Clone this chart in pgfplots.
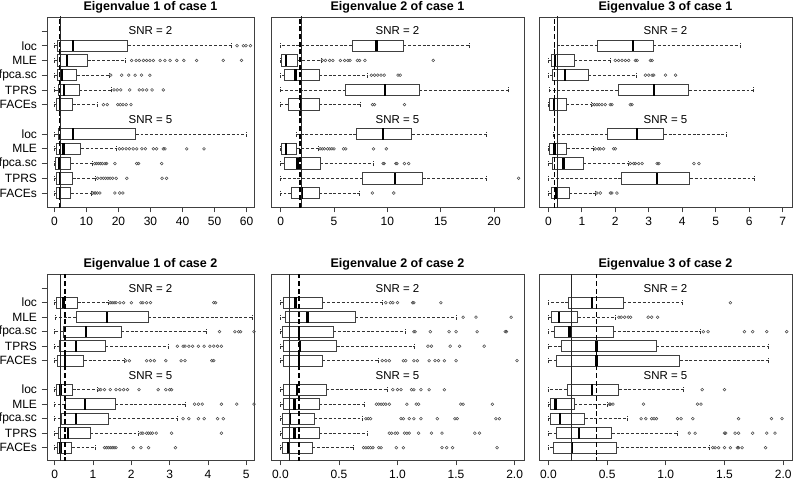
\documentclass[border=0pt]{standalone}
\usepackage{pgfplots}
\pgfplotsset{compat=1.18}
\usepgfplotslibrary{statistics}
\usepackage{fontspec}
\setmainfont{Liberation Sans}
\newcommand{\bx}[6]{\addplot[bxp, boxplot prepared={draw position=#1, lower whisker=#2, lower quartile=#3, median=#4, upper quartile=#5, upper whisker=#6}] coordinates {};}
\pgfplotsset{
  every axis title/.style={at={(0.5,1)}, anchor=base, yshift=4.5pt, font=\fontsize{9.4}{11}\selectfont\bfseries},
  bxp/.style={black!80, line width=0.7pt,
    boxplot/box extend=0.78, boxplot/whisker extend=0.34,
    boxplot/every box/.style={draw=black!75, line width=0.7pt},
    boxplot/every median/.style={draw=black, line width=1.8pt},
    boxplot/every whisker/.style={draw=black!80, line width=0.5pt, dash pattern=on 2.2pt off 1.4pt}},
  outl/.style={only marks, mark=o, mark size=1.05pt, black!70, mark options={line width=0.4pt}},
  vsol/.style={black!85, line width=0.8pt},
  vdash/.style={black, line width=1.0pt, dash pattern=on 3.75pt off 2pt},
  panel/.style={scale only axis, clip=true,
    axis line style={draw=black!75, line width=0.7pt},
    tick align=outside, major tick length=4pt,
    tick style={black!75, line width=0.6pt},
    xtick pos=bottom, ytick pos=left,
    /pgf/number format/assume math mode=true,
    tick label style={font=\fontsize{9}{10}\selectfont},
    anchor=south west},
  toprow/.style={panel, height=142.5pt, ymin=0.05, ymax=12.95},
  botrow/.style={panel, height=139.5pt, ymin=0.15, ymax=12.98},
  lab/.style={ytick={1,2,3,4,5,7,8,9,10,11,12},
    yticklabels={FACEs,TPRS,fpca.sc,MLE,loc,FACEs,TPRS,fpca.sc,MLE,loc,{}}},
  nolab/.style={ytick=\empty},
}
\newcommand{\snr}[1]{%
  \node[font=\fontsize{8.6}{10}\selectfont] at ({rel axis cs:0.5,0}|-{axis cs:0,12}) {SNR = 2};
  \node[font=\fontsize{8.6}{10}\selectfont] at ({rel axis cs:0.5,0}|-{axis cs:0,6}) {SNR = 5};}
\begin{document}
\begin{tikzpicture}
% ---------------- Panel 1 ----------------
\begin{axis}[toprow, lab, at={(35.25pt,207pt)}, width=155.25pt,
  xmin=-2.3, xmax=62.3, xtick={0,10,20,30,40,50,60},
  title={Eigenvalue 1 of case 1}]
\bx{11}{0.12}{1.05}{5.9}{22.9}{55.1}
\bx{10}{0.12}{1.05}{3.9}{10.4}{22.1}
\bx{9}{0.12}{1.05}{2.3}{7.0}{17.0}
\bx{8}{0.12}{1.2}{3.0}{7.8}{17.9}
\bx{7}{0.12}{0.75}{1.8}{5.7}{13.4}
\bx{5}{0.12}{1.2}{5.9}{25.4}{59.8}
\bx{4}{0.12}{0.75}{2.8}{8.3}{19.2}
\bx{3}{0.12}{0.3}{1.6}{5.1}{12.0}
\bx{2}{0.12}{0.75}{1.8}{5.7}{12.7}
\bx{1}{0.12}{0.75}{1.8}{5.1}{11.5}
\addplot[outl] coordinates {(57.0,11) (59.0,11) (59.8,11) (61.2,11)};
\addplot[outl] coordinates {(24.1,10) (25.5,10) (26.5,10) (27.8,10) (28.8,10) (29.8,10) (30.9,10) (33.0,10) (34.5,10) (36.1,10) (38.2,10) (40.4,10) (44.4,10) (52.7,10) (58.4,10)};
\addplot[outl] coordinates {(17.6,9) (21.0,9) (23.2,9) (25.2,9) (27.2,9) (29.8,9)};
\addplot[outl] coordinates {(18.6,8) (19.6,8) (20.7,8) (23.5,8) (26.5,8) (27.6,8) (28.8,8) (30.5,8) (34.0,8)};
\addplot[outl] coordinates {(15.3,7) (16.5,7) (19.8,7) (20.6,7) (21.4,7) (22.4,7) (23.9,7)};
\addplot[outl] coordinates {(20.3,4) (21.3,4) (22.4,4) (23.4,4) (24.6,4) (25.7,4) (27.3,4) (28.4,4) (30.9,4) (31.9,4) (34.0,4) (34.5,4) (41.3,4) (46.7,4)};
\addplot[outl] coordinates {(12.6,3) (13.2,3) (13.8,3) (14.4,3) (15.0,3) (15.8,3) (16.3,3) (18.9,3) (25.7,3) (26.3,3) (33.5,3)};
\addplot[outl] coordinates {(13.5,2) (14.5,2) (15.3,2) (16.0,2) (16.7,2) (17.4,2) (18.2,2) (19.3,2) (22.6,2) (33.6,2) (35.0,2)};
\addplot[outl] coordinates {(11.9,1) (12.4,1) (12.9,1) (13.4,1) (14.2,1) (18.9,1) (20.4,1) (21.4,1)};
\addplot[vdash] coordinates {(1.6,0) (1.6,13)};
\addplot[vsol] coordinates {(2.0,0) (2.0,13)};
\snr{}
\end{axis}
% ---------------- Panel 2 ----------------
\begin{axis}[toprow, nolab, at={(203.25pt,207pt)}, width=189.75pt,
  xmin=-0.9, xmax=22.8, xtick={0,5,10,15,20},
  title={Eigenvalue 2 of case 1}]
\bx{11}{0.0}{6.7}{9.0}{11.5}{17.7}
\bx{10}{0.0}{0.1}{0.5}{1.6}{3.8}
\bx{9}{0.0}{0.4}{1.4}{3.6}{8.1}
\bx{8}{0.0}{6.1}{9.8}{13.0}{21.3}
\bx{7}{0.0}{0.7}{1.9}{3.6}{7.5}
\bx{5}{1.5}{7.1}{9.6}{12.3}{19.3}
\bx{4}{0.0}{0.1}{0.5}{1.5}{3.5}
\bx{3}{0.0}{0.35}{1.6}{3.7}{8.7}
\bx{2}{0.0}{7.7}{10.7}{13.3}{19.3}
\bx{1}{0.0}{1.0}{2.0}{3.6}{7.4}
\addplot[outl] coordinates {(3.9,10) (4.2,10) (4.6,10) (4.9,10) (5.6,10) (6.0,10) (6.3,10) (6.5,10) (7.2,10) (7.4,10) (7.9,10) (14.3,10)};
\addplot[outl] coordinates {(8.5,9) (8.8,9) (9.1,9) (9.4,9) (9.7,9) (11.0,9) (11.2,9)};
\addplot[outl] coordinates {(8.6,7) (8.8,7) (11.6,7)};
\addplot[outl] coordinates {(3.7,4) (3.9,4) (4.1,4) (4.4,4) (4.6,4) (4.8,4) (5.0,4) (5.9,4) (6.1,4) (8.7,4) (9.9,4)};
\addplot[outl] coordinates {(9.6,3) (9.7,3) (10.8,3) (10.9,3) (11.6,3) (12.0,3)};
\addplot[outl] coordinates {(22.3,2)};
\addplot[outl] coordinates {(8.6,1) (10.6,1)};
\addplot[vdash] coordinates {(1.82,0) (1.82,13)};
\addplot[vsol] coordinates {(1.97,0) (1.97,13)};
\snr{}
\end{axis}
% ---------------- Panel 3 ----------------
\begin{axis}[toprow, nolab, at={(404.25pt,207pt)}, width=189.75pt,
  xmin=-0.28, xmax=7.28, xtick={0,1,2,3,4,5,6,7},
  title={Eigenvalue 3 of case 1}]
\bx{11}{0.18}{1.48}{2.53}{3.13}{5.73}
\bx{10}{0.0}{0.08}{0.2}{0.78}{1.85}
\bx{9}{0.0}{0.13}{0.5}{1.2}{2.62}
\bx{8}{0.03}{2.08}{3.15}{4.2}{6.13}
\bx{7}{0.0}{0.03}{0.17}{0.53}{1.27}
\bx{5}{0.15}{1.78}{2.65}{3.45}{5.33}
\bx{4}{0.0}{0.03}{0.18}{0.55}{1.33}
\bx{3}{0.0}{0.12}{0.45}{1.05}{2.38}
\bx{2}{0.0}{2.18}{3.25}{4.23}{6.15}
\bx{1}{0.0}{0.08}{0.22}{0.63}{1.4}
\addplot[outl] coordinates {(2.0,10) (2.1,10) (2.2,10) (2.3,10) (2.4,10) (2.6,10) (2.65,10) (3.05,10) (3.1,10)};
\addplot[outl] coordinates {(2.9,9) (3.0,9) (3.1,9) (3.15,9) (3.5,9) (3.8,9)};
\addplot[outl] coordinates {(1.32,7) (1.38,7) (1.45,7) (1.52,7) (1.6,7) (1.7,7) (1.85,7) (1.9,7) (2.45,7) (2.5,7)};
\addplot[outl] coordinates {(1.4,4) (1.5,4) (1.55,4) (1.65,4) (1.95,4) (2.0,4)};
\addplot[outl] coordinates {(2.45,3) (2.55,3) (2.6,3) (2.7,3) (2.8,3) (3.25,3) (3.3,3) (4.35,3) (4.5,3)};
\addplot[outl] coordinates {(1.45,1) (1.55,1) (1.85,1) (1.9,1) (2.05,1)};
\addplot[vdash] coordinates {(0.18,0) (0.18,13)};
\addplot[vsol] coordinates {(0.28,0) (0.28,13)};
\snr{}
\end{axis}
% ---------------- Panel 4 ----------------
\begin{axis}[botrow, lab, at={(35.25pt,17.25pt)}, width=155.25pt,
  xmin=-0.2, xmax=5.2, xtick={0,1,2,3,4,5},
  title={Eigenvalue 1 of case 2}]
\bx{11}{0.0}{0.04}{0.23}{0.6}{1.4}
\bx{10}{0.02}{0.56}{1.36}{2.44}{5.16}
\bx{9}{0.0}{0.22}{0.82}{1.73}{3.96}
\bx{8}{0.0}{0.13}{0.56}{1.32}{2.96}
\bx{7}{0.0}{0.06}{0.27}{0.76}{1.81}
\bx{5}{0.0}{0.04}{0.15}{0.47}{1.12}
\bx{4}{0.0}{0.28}{0.79}{1.58}{3.41}
\bx{3}{0.0}{0.17}{0.55}{1.4}{3.2}
\bx{2}{0.0}{0.09}{0.35}{0.93}{2.18}
\bx{1}{0.0}{0.06}{0.15}{0.45}{1.05}
\addplot[outl] coordinates {(1.45,11) (1.5,11) (1.55,11) (1.6,11) (1.7,11) (1.8,11) (2.0,11) (2.25,11) (2.3,11) (2.4,11) (2.5,11) (4.15,11) (4.2,11)};
\addplot[outl] coordinates {(4.3,9) (4.7,9) (4.8,9) (4.85,9) (5.2,9)};
\addplot[outl] coordinates {(3.2,8) (3.35,8) (3.4,8) (3.5,8) (3.6,8) (3.75,8) (3.9,8) (4.05,8) (4.15,8) (4.25,8) (4.35,8)};
\addplot[outl] coordinates {(1.85,7) (1.95,7) (2.4,7) (2.5,7) (2.6,7) (2.9,7) (3.3,7) (3.4,7) (4.1,7) (4.15,7)};
\addplot[outl] coordinates {(1.15,5) (1.2,5) (1.3,5) (1.45,5) (1.6,5) (1.7,5) (1.8,5) (1.9,5) (2.2,5) (2.7,5) (2.9,5) (3.0,5) (3.05,5)};
\addplot[outl] coordinates {(3.65,4) (3.75,4) (3.85,4) (4.35,4) (4.75,4) (5.2,4)};
\addplot[outl] coordinates {(3.35,3) (3.5,3) (3.75,3) (3.9,3) (4.25,3) (4.4,3)};
\addplot[outl] coordinates {(2.25,2) (2.3,2) (2.4,2) (2.45,2) (2.5,2) (2.55,2) (2.65,2) (3.05,2) (4.35,2)};
\addplot[outl] coordinates {(1.3,1) (1.35,1) (1.4,1) (1.45,1) (1.5,1) (1.55,1) (1.6,1) (2.05,1) (2.25,1) (2.45,1) (3.15,1)};
\addplot[vsol] coordinates {(0.15,0) (0.15,13)};
\addplot[vdash] coordinates {(0.27,0) (0.27,13)};
\snr{}
\end{axis}
% ---------------- Panel 5 ----------------
\begin{axis}[botrow, nolab, at={(203.25pt,17.25pt)}, width=189.75pt,
  xmin=-0.08, xmax=2.08, xtick={0,0.5,1,1.5,2}, xticklabels={0.0,0.5,1.0,1.5,2.0},
  title={Eigenvalue 2 of case 2}]
\bx{11}{0.0}{0.03}{0.13}{0.36}{0.87}
\bx{10}{0.0}{0.04}{0.23}{0.64}{1.5}
\bx{9}{0.0}{0.02}{0.16}{0.45}{1.07}
\bx{8}{0.0}{0.03}{0.17}{0.48}{1.14}
\bx{7}{0.0}{0.03}{0.16}{0.36}{0.84}
\bx{5}{0.0}{0.03}{0.14}{0.39}{0.91}
\bx{4}{0.0}{0.03}{0.12}{0.33}{0.72}
\bx{3}{0.0}{0.02}{0.08}{0.29}{0.7}
\bx{2}{0.0}{0.02}{0.12}{0.33}{0.74}
\bx{1}{0.0}{0.02}{0.07}{0.27}{0.62}
\addplot[outl] coordinates {(0.9,11) (0.94,11) (0.96,11) (1.0,11) (1.13,11) (1.14,11) (1.37,11)};
\addplot[outl] coordinates {(1.56,10) (1.67,10) (1.97,10)};
\addplot[outl] coordinates {(1.14,9) (1.15,9) (1.28,9) (1.44,9) (1.5,9) (1.68,9) (1.92,9) (1.93,9)};
\addplot[outl] coordinates {(1.26,8) (1.29,8) (1.45,8) (1.53,8) (1.74,8)};
\addplot[outl] coordinates {(0.87,7) (0.9,7) (0.93,7) (1.05,7) (1.07,7) (1.14,7) (1.17,7) (1.27,7) (1.32,7) (1.35,7) (1.4,7) (1.5,7) (2.02,7)};
\addplot[outl] coordinates {(0.96,5) (1.0,5) (1.03,5) (1.12,5) (1.14,5) (1.2,5) (1.27,5) (1.4,5)};
\addplot[outl] coordinates {(0.82,4) (0.84,4) (0.86,4) (0.88,4) (0.9,4) (0.93,4) (1.08,4) (1.16,4) (1.18,4) (1.54,4) (1.56,4) (1.81,4)};
\addplot[outl] coordinates {(0.73,3) (0.75,3) (0.77,3) (1.03,3) (1.05,3) (1.1,3) (1.14,3) (1.2,3) (1.34,3) (1.49,3) (1.51,3) (1.84,3) (1.87,3)};
\addplot[outl] coordinates {(0.93,2) (0.95,2) (0.98,2) (1.0,2) (1.06,2) (1.08,2) (1.1,2) (1.18,2) (1.29,2) (1.38,2) (1.66,2) (1.7,2)};
\addplot[outl] coordinates {(0.71,1) (0.73,1) (0.75,1) (0.77,1) (0.79,1) (0.84,1) (0.86,1) (0.99,1) (1.05,1) (1.38,1) (1.42,1) (1.47,1) (1.85,1)};
\addplot[vsol] coordinates {(0.074,0) (0.074,13)};
\addplot[vdash] coordinates {(0.16,0) (0.16,13)};
\snr{}
\end{axis}
% ---------------- Panel 6 ----------------
\begin{axis}[botrow, nolab, at={(404.25pt,17.25pt)}, width=189.75pt,
  xmin=-0.08, xmax=2.075, xtick={0,0.5,1,1.5,2}, xticklabels={0.0,0.5,1.0,1.5,2.0},
  title={Eigenvalue 3 of case 2}]
\bx{11}{0.0}{0.17}{0.37}{0.64}{1.14}
\bx{10}{0.0}{0.03}{0.09}{0.25}{0.57}
\bx{9}{0.0}{0.05}{0.18}{0.55}{1.29}
\bx{8}{0.0}{0.11}{0.41}{0.92}{1.87}
\bx{7}{0.0}{0.07}{0.41}{1.12}{1.87}
\bx{5}{0.0}{0.16}{0.37}{0.6}{1.15}
\bx{4}{0.0}{0.02}{0.06}{0.22}{0.5}
\bx{3}{0.0}{0.02}{0.1}{0.31}{0.67}
\bx{2}{0.0}{0.07}{0.26}{0.54}{1.1}
\bx{1}{0.0}{0.04}{0.2}{0.58}{1.37}
\addplot[outl] coordinates {(1.55,11)};
\addplot[outl] coordinates {(0.6,10) (0.62,10) (0.65,10) (0.68,10) (0.7,10) (0.85,10) (0.88,10) (0.93,10)};
\addplot[outl] coordinates {(1.32,9) (1.36,9) (1.67,9) (1.74,9) (1.86,9) (2.03,9)};
\addplot[outl] coordinates {(1.31,5) (1.5,5)};
\addplot[outl] coordinates {(0.52,4) (0.53,4) (0.55,4) (0.81,4) (1.27,4) (1.3,4)};
\addplot[outl] coordinates {(0.79,3) (0.83,3) (0.88,3) (0.9,3) (0.92,3) (1.1,3) (1.13,3) (1.23,3) (1.62,3) (1.9,3) (1.99,3)};
\addplot[outl] coordinates {(1.2,2) (1.25,2) (1.5,2) (1.51,2) (1.59,2) (1.62,2) (1.74,2) (1.86,2) (1.93,2)};
\addplot[outl] coordinates {(1.4,1) (1.42,1) (1.45,1) (1.5,1) (1.55,1) (1.61,1) (1.62,1) (1.65,1) (1.85,1)};
\addplot[vsol] coordinates {(0.2,0) (0.2,13)};
\addplot[vdash] coordinates {(0.41,0) (0.41,13)};
\snr{}
\end{axis}
\pgfresetboundingbox
\path[use as bounding box] (0,0) rectangle (594.75pt,362.25pt);
\end{tikzpicture}
\end{document}
